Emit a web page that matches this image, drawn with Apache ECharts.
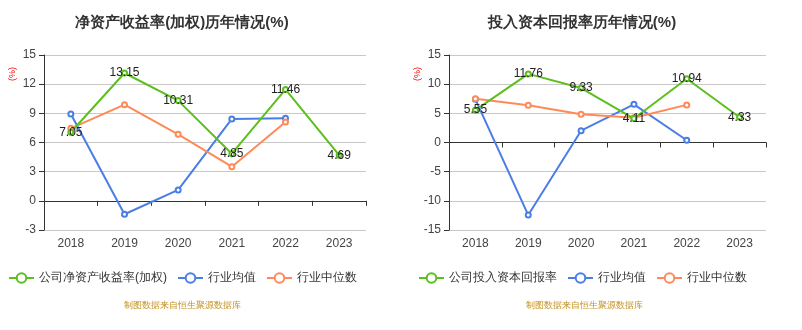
<!DOCTYPE html>
<html><head><meta charset="utf-8">
<script src="https://cdn.jsdelivr.net/npm/echarts@6/dist/echarts.min.js"></script>
<style>html,body{margin:0;padding:0;background:#fff}#c{width:802px;height:330px}</style>
</head><body><div id="c"></div>
<script>
var years = ['2018','2019','2020','2021','2022','2023'];
var titleLeft = '净资产收益率(加权)历年情况(%)';
var titleRight = '投入资本回报率历年情况(%)';
var nameRoe = '公司净资产收益率(加权)';
var nameRoic = '公司投入资本回报率';
var nameMean = '行业均值';
var nameMedian = '行业中位数';
var sourceText = '制图数据来自恒生聚源数据库';
var roe = [7.05, 13.15, 10.31, 4.85, 11.46, 4.69];
var roeMean = [8.93, -1.38, 1.12, 8.42, 8.50, null];
var roeMedian = [7.46, 9.89, 6.84, 3.51, 8.10, null];
var roic = [5.55, 11.76, 9.33, 4.11, 10.94, 4.33];
var roicMean = [7.4, -12.44, 2.02, 6.54, 0.38, null];
var roicMedian = [7.5, 6.37, 4.83, 4.25, 6.45, null];

var GREEN = '#5bbf1c', BLUE = '#4a7ee6', ORANGE = '#ff8a58';
var chart = echarts.init(document.getElementById('c'), null, {renderer: 'canvas'});

function yAx(idx, min, max, itv) {
  return {
    type: 'value', gridIndex: idx, min: min, max: max, interval: itv,
    axisLine: {show: true, lineStyle: {color: '#333'}},
    axisTick: {show: true, length: 5, lineStyle: {color: '#333'}},
    axisLabel: {color: '#444', fontSize: 12, margin: 8},
    splitLine: {lineStyle: {color: '#c8c8c8'}}
  };
}
function xAxBottom(idx) {
  return {
    type: 'category', gridIndex: idx, data: years, position: 'bottom',
    axisLine: {show: false, onZero: false}, axisTick: {show: false},
    axisLabel: {color: '#444', fontSize: 12, margin: 8}
  };
}
function xAxZero(idx) {
  return {
    type: 'category', gridIndex: idx, data: years, position: 'bottom',
    axisLine: {show: true, onZero: true, lineStyle: {color: '#333'}},
    axisTick: {show: true, length: 5, lineStyle: {color: '#333'}},
    axisLabel: {show: false}
  };
}
function ser(name, data, color, xi, yi, withLabel) {
  return {
    name: name, type: 'line', data: data, xAxisIndex: xi, yAxisIndex: yi,
    symbol: 'emptyCircle', symbolSize: 5, connectNulls: false,
    itemStyle: {color: color}, lineStyle: {color: color, width: 2},
    label: withLabel ? {show: true, position: 'inside', color: '#222', fontSize: 12} : {show: false},
    z: withLabel ? 3 : 2
  };
}
var legendItemStyle = {borderWidth: 1.5};

chart.setOption({
  animation: false,
  title: [
    {text: titleLeft, left: 177, top: 10, textAlign: 'center', textStyle: {fontSize: 15, fontWeight: 'bold', color: '#333'}},
    {text: titleRight, left: 577, top: 10, textAlign: 'center', textStyle: {fontSize: 15, fontWeight: 'bold', color: '#333'}},
    {text: sourceText, left: 177, top: 296, textAlign: 'center', textStyle: {fontSize: 9, fontWeight: 'normal', color: '#c4901f'}},
    {text: sourceText, left: 579, top: 296, textAlign: 'center', textStyle: {fontSize: 9, fontWeight: 'normal', color: '#c4901f'}}
  ],
  graphic: [
    {type: 'text', left: 8, top: 67, rotation: Math.PI / 2, style: {text: '(%)', fill: '#ff0000', fontSize: 9}},
    {type: 'text', left: 413, top: 67, rotation: Math.PI / 2, style: {text: '(%)', fill: '#ff0000', fontSize: 9}}
  ],
  legend: [
    {left: 8, top: 272, padding: 0, itemWidth: 25, itemHeight: 12, itemGap: 10, itemStyle: legendItemStyle,
     textStyle: {fontSize: 12, color: '#333'}, data: [nameRoe, nameMean, nameMedian]},
    {left: 418, top: 272, padding: 0, itemWidth: 25, itemHeight: 12, itemGap: 10, itemStyle: legendItemStyle,
     textStyle: {fontSize: 12, color: '#333'}, data: [nameRoic, nameMean, nameMedian]}
  ],
  grid: [
    {left: 44, top: 55, width: 322, height: 175},
    {left: 449, top: 55, width: 317, height: 175}
  ],
  xAxis: [xAxBottom(0), xAxZero(0), xAxBottom(1), xAxZero(1)],
  yAxis: [yAx(0, -3, 15, 3), yAx(1, -15, 15, 5)],
  series: [
    ser(nameMean, roeMean, BLUE, 0, 0, false),
    ser(nameMedian, roeMedian, ORANGE, 0, 0, false),
    ser(nameRoe, roe, GREEN, 0, 0, true),
    ser(nameMean, roicMean, BLUE, 2, 1, false),
    ser(nameMedian, roicMedian, ORANGE, 2, 1, false),
    ser(nameRoic, roic, GREEN, 2, 1, true)
  ]
});
</script></body></html>
